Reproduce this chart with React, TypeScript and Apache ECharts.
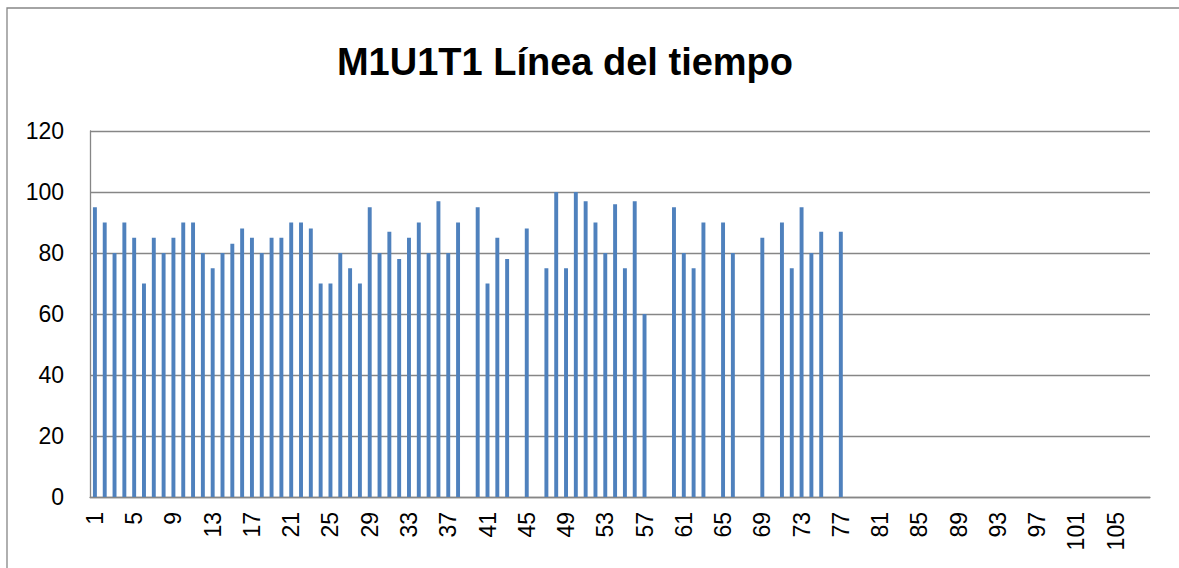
import React, { useEffect, useRef } from "react";
import * as echarts from "echarts";

const TITLE = "M1U1T1 Línea del tiempo";
const CATEGORIES: string[] = Array.from({ length: 108 }, (_, i) => String(i + 1));
// values for categories 1..77 (null = no bar), 78..108 empty
const VALUES_1_30: (number | null)[] = [
  95, 90, 80, 90, 85, 70, 85, 80, 85, 90,
  90, 80, 75, 80, 83, 88, 85, 80, 85, 85,
  90, 90, 88, 70, 70, 80, 75, 70, 95, 80,
];
const VALUES_31_60: (number | null)[] = [
  87, 78, 85, 90, 80, 97, 80, 90, null, 95,
  70, 85, 78, null, 88, null, 75, 100, 75, 100,
  97, 90, 80, 96, 75, 97, 60, null, null, 95,
];
const VALUES_61_77: (number | null)[] = [
  80, 75, 90, null, 90, 80, null, null, 85, null,
  90, 75, 95, 80, 87, null, 87,
];
const Y_MIN = 0;
const Y_MAX = 120;
const Y_STEP = 20;

const SERIES: (number | null)[] = CATEGORIES.map((_, i) => {
  const all = [...VALUES_1_30, ...VALUES_31_60, ...VALUES_61_77];
  return i < all.length ? all[i] : null;
});

export default function App() {
  const ref = useRef<HTMLDivElement>(null);
  useEffect(() => {
    document.body.style.margin = "0";
    if (!ref.current) return;
    const chart = echarts.init(ref.current, undefined, { renderer: "svg" });
    const gray = "#868686";
    chart.setOption({
      animation: false,
      backgroundColor: "#ffffff",
      grid: { left: 90, right: 29, top: 131, bottom: 71, containLabel: false },
      graphic: [
        {
          type: "rect",
          shape: { x: 7, y: 8, width: 1200, height: 600 },
          style: { fill: "none", stroke: gray, lineWidth: 1.3 },
          silent: true,
          z: 0,
        },
        {
          type: "text",
          x: 565,
          y: 81,
          style: {
            text: TITLE,
            fontFamily: "Liberation Sans",
            fontWeight: "bold",
            fontSize: 38,
            fill: "#000000",
            textAlign: "center",
            textVerticalAlign: "bottom",
          },
        },
      ],
      xAxis: {
        type: "category",
        data: CATEGORIES,
        boundaryGap: true,
        axisLine: { show: true, lineStyle: { color: gray, width: 1.3 } },
        axisTick: { show: false },
        axisLabel: {
          interval: 3,
          rotate: 90,
          fontSize: 23,
          fontFamily: "Liberation Sans",
          color: "#000000",
          margin: 15,
        },
        splitLine: { show: false },
      },
      yAxis: {
        type: "value",
        min: Y_MIN,
        max: Y_MAX,
        interval: Y_STEP,
        axisLine: { show: true, lineStyle: { color: gray, width: 1.3 } },
        axisTick: { show: false },
        axisLabel: {
          fontSize: 23,
          fontFamily: "Liberation Sans",
          color: "#000000",
          margin: 26,
        },
        splitLine: { show: true, lineStyle: { color: gray, width: 1.3 } },
      },
      series: [
        {
          type: "bar",
          data: SERIES,
          barWidth: "40%",
          itemStyle: { color: "#4F81BD" },
        },
      ],
    });
    return () => chart.dispose();
  }, []);
  return (
    <div
      ref={ref}
      style={{ position: "fixed", left: 0, top: 0, width: 1179, height: 568 }}
    />
  );
}
